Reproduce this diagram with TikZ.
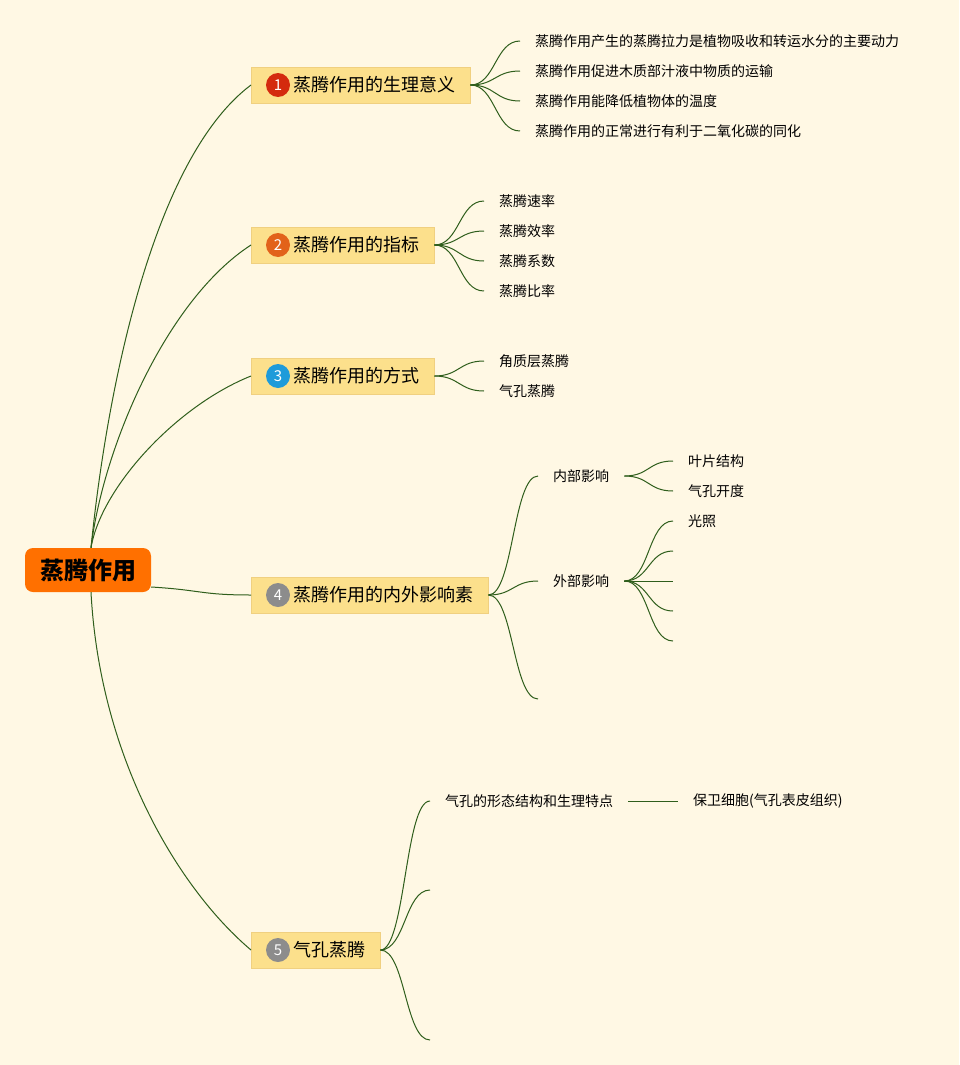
\documentclass[tikz,border=0pt]{standalone}
\usepackage{fontspec}
\setmainfont{Noto Sans CJK SC}
\definecolor{bgcream}{HTML}{FFF8E4}
\definecolor{boxfill}{HTML}{FCE08C}
\definecolor{boxline}{HTML}{F0D080}
\definecolor{rootorange}{HTML}{FF7000}
\definecolor{linegreen}{HTML}{2F5E1C}
\definecolor{badgered}{HTML}{D42A0E}
\definecolor{badgeorange}{HTML}{E2621A}
\definecolor{badgeblue}{HTML}{1E9BDA}
\definecolor{badgegrey}{HTML}{8C8C8C}
\begin{document}
\begin{tikzpicture}[x=1pt, y=-1pt,
    rootbox/.style={fill=rootorange, rounded corners=8pt, minimum width=126pt, minimum height=44pt, inner sep=0pt, font=\fontsize{24}{26}\selectfont\bfseries},
    topic/.style={fill=boxfill, draw=boxline, anchor=west, minimum height=36pt, inner xsep=15pt, inner ysep=0pt, font=\fontsize{18}{20}\selectfont},
    badge/.style={circle, minimum size=24pt, inner sep=0pt, text=white, font=\fontsize{15}{16}\selectfont},
    leaf/.style={anchor=west, inner xsep=15pt, inner ysep=2pt, font=\fontsize{14}{16}\selectfont},
    branch/.style={draw=linegreen, line width=1pt}]
    \useasboundingbox (0,0) rectangle (959,1065);
    \fill[bgcream] (0,0) rectangle (959,1065);

    % Root and main topics
    \node[rootbox] (root) at (88,570) {蒸腾作用};
    \node[topic] (t1) at (251,85) {\hspace{27pt}蒸腾作用的生理意义};
    \node[topic] (t2) at (251,245) {\hspace{27pt}蒸腾作用的指标};
    \node[topic] (t3) at (251,376) {\hspace{27pt}蒸腾作用的方式};
    \node[topic] (t4) at (251,595) {\hspace{27pt}蒸腾作用的内外影响素};
    \node[topic] (t5) at (251,950) {\hspace{27pt}气孔蒸腾};

    \node[badge, fill=badgered] (n1) at ([xshift=27pt]t1.west) {1};
    \node[badge, fill=badgeorange] (n2) at ([xshift=27pt]t2.west) {2};
    \node[badge, fill=badgeblue] (n3) at ([xshift=27pt]t3.west) {3};
    \node[badge, fill=badgegrey] (n4) at ([xshift=27pt]t4.west) {4};
    \node[badge, fill=badgegrey] (n5) at ([xshift=27pt]t5.west) {5};

    \draw[branch] ([xshift=3pt]root.north) .. controls +(15,-150) and +(-100,75) .. (t1.west);
    \draw[branch] ([xshift=3pt]root.north) .. controls +(12,-100) and +(-85,55) .. (t2.west);
    \draw[branch] ([xshift=3pt]root.north) .. controls +(10,-60) and +(-75,30) .. (t3.west);
    \draw[branch] ([yshift=-17pt]root.east) .. controls +(50,3) and +(-50,0) .. (t4.west);
    \draw[branch] ([xshift=3pt]root.south) .. controls +(9,168) and +(-71,-60) .. (t5.west);

    % Branch 1
    \foreach \txt [count=\i] in {蒸腾作用产生的蒸腾拉力是植物吸收和转运水分的主要动力,
        蒸腾作用促进木质部汁液中物质的运输, 蒸腾作用能降低植物体的温度,
        蒸腾作用的正常进行有利于二氧化碳的同化} {
        \node[leaf] (a\i) at (520,11+30*\i) {\txt};
        \draw[branch] (t1.east) .. controls +(25,0) and +(-25,0) .. (a\i.west);
    }

    % Branch 2
    \foreach \txt [count=\i] in {蒸腾速率, 蒸腾效率, 蒸腾系数, 蒸腾比率} {
        \node[leaf] (b\i) at (484,171+30*\i) {\txt};
        \draw[branch] (t2.east) .. controls +(25,0) and +(-25,0) .. (b\i.west);
    }

    % Branch 3
    \foreach \txt [count=\i] in {角质层蒸腾, 气孔蒸腾} {
        \node[leaf] (c\i) at (484,331+30*\i) {\txt};
        \draw[branch] (t3.east) .. controls +(25,0) and +(-25,0) .. (c\i.west);
    }

    % Branch 4: inner / outer factors
    \node[leaf] (inner) at (538,476) {内部影响};
    \node[leaf] (outer) at (538,581) {外部影响};
    \coordinate (d3) at (538,699);
    \foreach \n in {inner, outer}
        \draw[branch] (t4.east) .. controls +(25,0) and +(-25,0) .. (\n.west);
    \draw[branch] (t4.east) .. controls +(25,0) and +(-25,0) .. (d3);

    \node[leaf] (e1) at (673,461) {叶片结构};
    \node[leaf] (e2) at (673,491) {气孔开度};
    \foreach \n in {e1, e2}
        \draw[branch] (inner.east) .. controls +(25,0) and +(-25,0) .. (\n.west);

    \node[leaf] (f1) at (673,521) {光照};
    \coordinate (f2) at (673,551);
    \coordinate (f3) at (673,581);
    \coordinate (f4) at (673,611);
    \coordinate (f5) at (673,641);
    \draw[branch] (outer.east) .. controls +(25,0) and +(-25,0) .. (f1.west);
    \foreach \n in {f2, f3, f4, f5}
        \draw[branch] (outer.east) .. controls +(25,0) and +(-25,0) .. (\n);

    % Branch 5
    \node[leaf] (g1) at (430,801) {气孔的形态结构和生理特点};
    \coordinate (g2) at (430,890);
    \coordinate (g3) at (430,1040);
    \draw[branch] (t5.east) .. controls +(25,0) and +(-25,0) .. (g1.west);
    \foreach \n in {g2, g3}
        \draw[branch] (t5.east) .. controls +(25,0) and +(-25,0) .. (\n);
    \node[leaf] (h1) at (678,801) {保卫细胞(气孔表皮组织)};
    \draw[branch] (g1.east) -- (h1.west);
\end{tikzpicture}
\end{document}
